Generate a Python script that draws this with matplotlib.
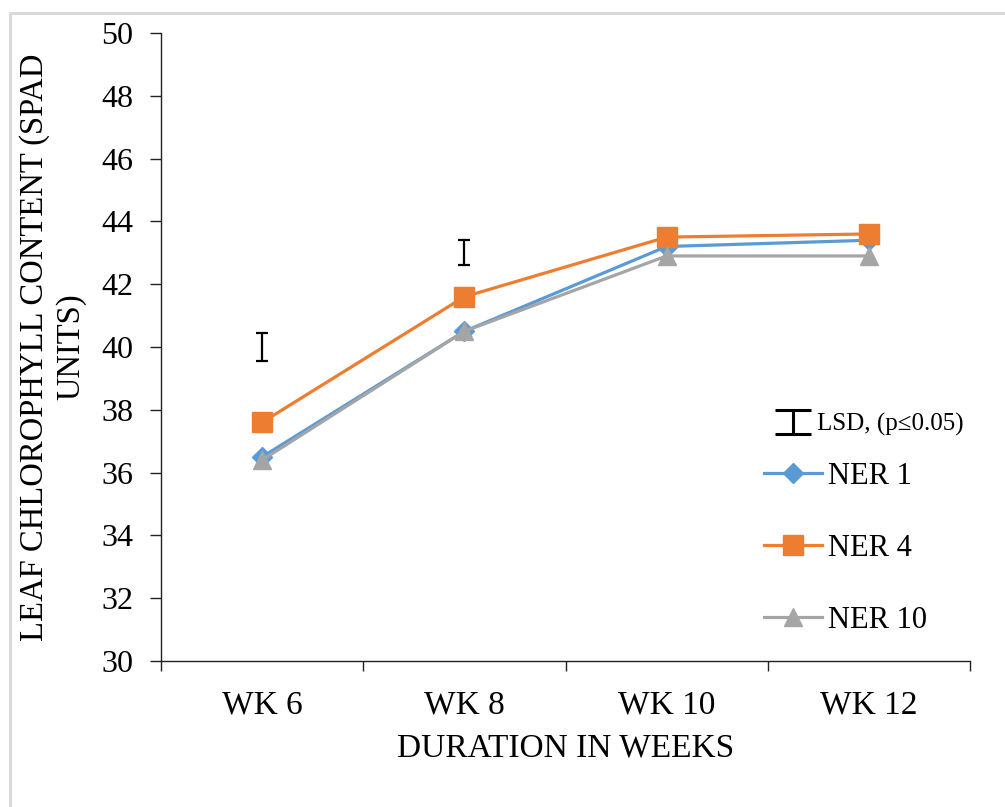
import numpy as np
import matplotlib
matplotlib.use('Agg')
import matplotlib.pyplot as plt
from matplotlib.lines import Line2D
from matplotlib.path import Path

# data
weeks = ['WK 6', 'WK 8', 'WK 10', 'WK 12']
ner1 = [36.5, 40.5, 43.2, 43.4]
ner4 = [37.6, 41.6, 43.5, 43.6]
ner10 = [36.4, 40.5, 42.9, 42.9]
lsd_pos = [0, 1]
lsd_mid = [40.0, 43.0]
lsd_half = [0.45, 0.4]
yticks = [30, 32, 34, 36, 38, 40, 42, 44, 46, 48, 50]

plt.rcParams['font.family'] = ['Liberation Serif', 'DejaVu Serif']

fig = plt.figure(figsize=(10.05, 8.07), dpi=100)
ax = fig.add_axes([161 / 1005, 1 - 661 / 807, (970 - 161) / 1005, (661 - 33) / 807])

x = np.arange(len(weeks))
blue, orange, gray = '#5B9BD5', '#ED7D31', '#A5A5A5'

ax.plot(x, ner1, color=blue, lw=2.3, marker='D', ms=10, label='NER 1')
ax.plot(x, ner4, color=orange, lw=2.3, marker='s', ms=14, label='NER 4')
ax.plot(x, ner10, color=gray, lw=2.3, marker='^', ms=13, label='NER 10')

# LSD bars
ax.errorbar(lsd_pos, lsd_mid, yerr=lsd_half, fmt='none', ecolor='black',
            elinewidth=1.6, capsize=4.3, capthick=1.6)

ax.set_xlim(-0.5, len(weeks) - 0.5)
ax.set_ylim(30, 50)
ax.set_yticks(yticks)
ax.set_xticks(x)
ax.set_xticklabels(weeks)
ax.set_xticks(np.arange(-0.5, len(weeks), 1), minor=True)

for side in ['top', 'right']:
    ax.spines[side].set_visible(False)
for side in ['left', 'bottom']:
    ax.spines[side].set_linewidth(1.0)
    ax.spines[side].set_color('#222222')

ax.tick_params(axis='y', length=8, width=1.0, pad=12, labelsize=23, color='#222222')
ax.tick_params(axis='x', which='major', length=0, pad=21, labelsize=24)
ax.tick_params(axis='x', which='minor', length=7.5, width=1.0, color='#222222')

ax.set_ylabel('LEAF CHLOROPHYLL CONTENT (SPAD\nUNITS)', fontsize=23.5,
              labelpad=11, linespacing=1.2)
ax.set_xlabel('DURATION IN WEEKS', fontsize=24, labelpad=9)

# LSD legend entry with an I-beam proxy handle
ibeam = Path([(-1, 0.64), (1, 0.64), (0, 0.64), (0, -0.64), (-1, -0.64), (1, -0.64)],
             [Path.MOVETO, Path.LINETO, Path.MOVETO, Path.LINETO, Path.MOVETO, Path.LINETO])
lsd_handle = Line2D([], [], ls='none', marker=ibeam, ms=26, mec='black',
                    mfc='none', mew=2.2)
leg_lsd = ax.legend([lsd_handle], ['LSD, (p≤0.05)'],
                    loc='upper left', bbox_to_anchor=(764 / 1005, 1 - 413 / 807),
                    bbox_transform=fig.transFigure, frameon=False, fontsize=18,
                    handlelength=2.3, handletextpad=-0.2,
                    borderpad=0, borderaxespad=0)
ax.add_artist(leg_lsd)

handles, labels = ax.get_legend_handles_labels()
ax.legend(handles, labels, loc='upper left',
          bbox_to_anchor=(764 / 1005, 1 - 462 / 807),
          bbox_transform=fig.transFigure, frameon=False, fontsize=22,
          handlelength=1.9, handletextpad=0.2, labelspacing=1.4,
          borderpad=0, borderaxespad=0)

# light gray frame along top and left edge
fig.add_artist(Line2D([10 / 1005, 1], [1 - 13 / 807, 1 - 13 / 807],
                      color='#d9d9d9', lw=2.2, transform=fig.transFigure))
fig.add_artist(Line2D([10 / 1005, 10 / 1005], [0, 1 - 13 / 807],
                      color='#d9d9d9', lw=2.2, transform=fig.transFigure))

fig.savefig('out.png', dpi=100)
